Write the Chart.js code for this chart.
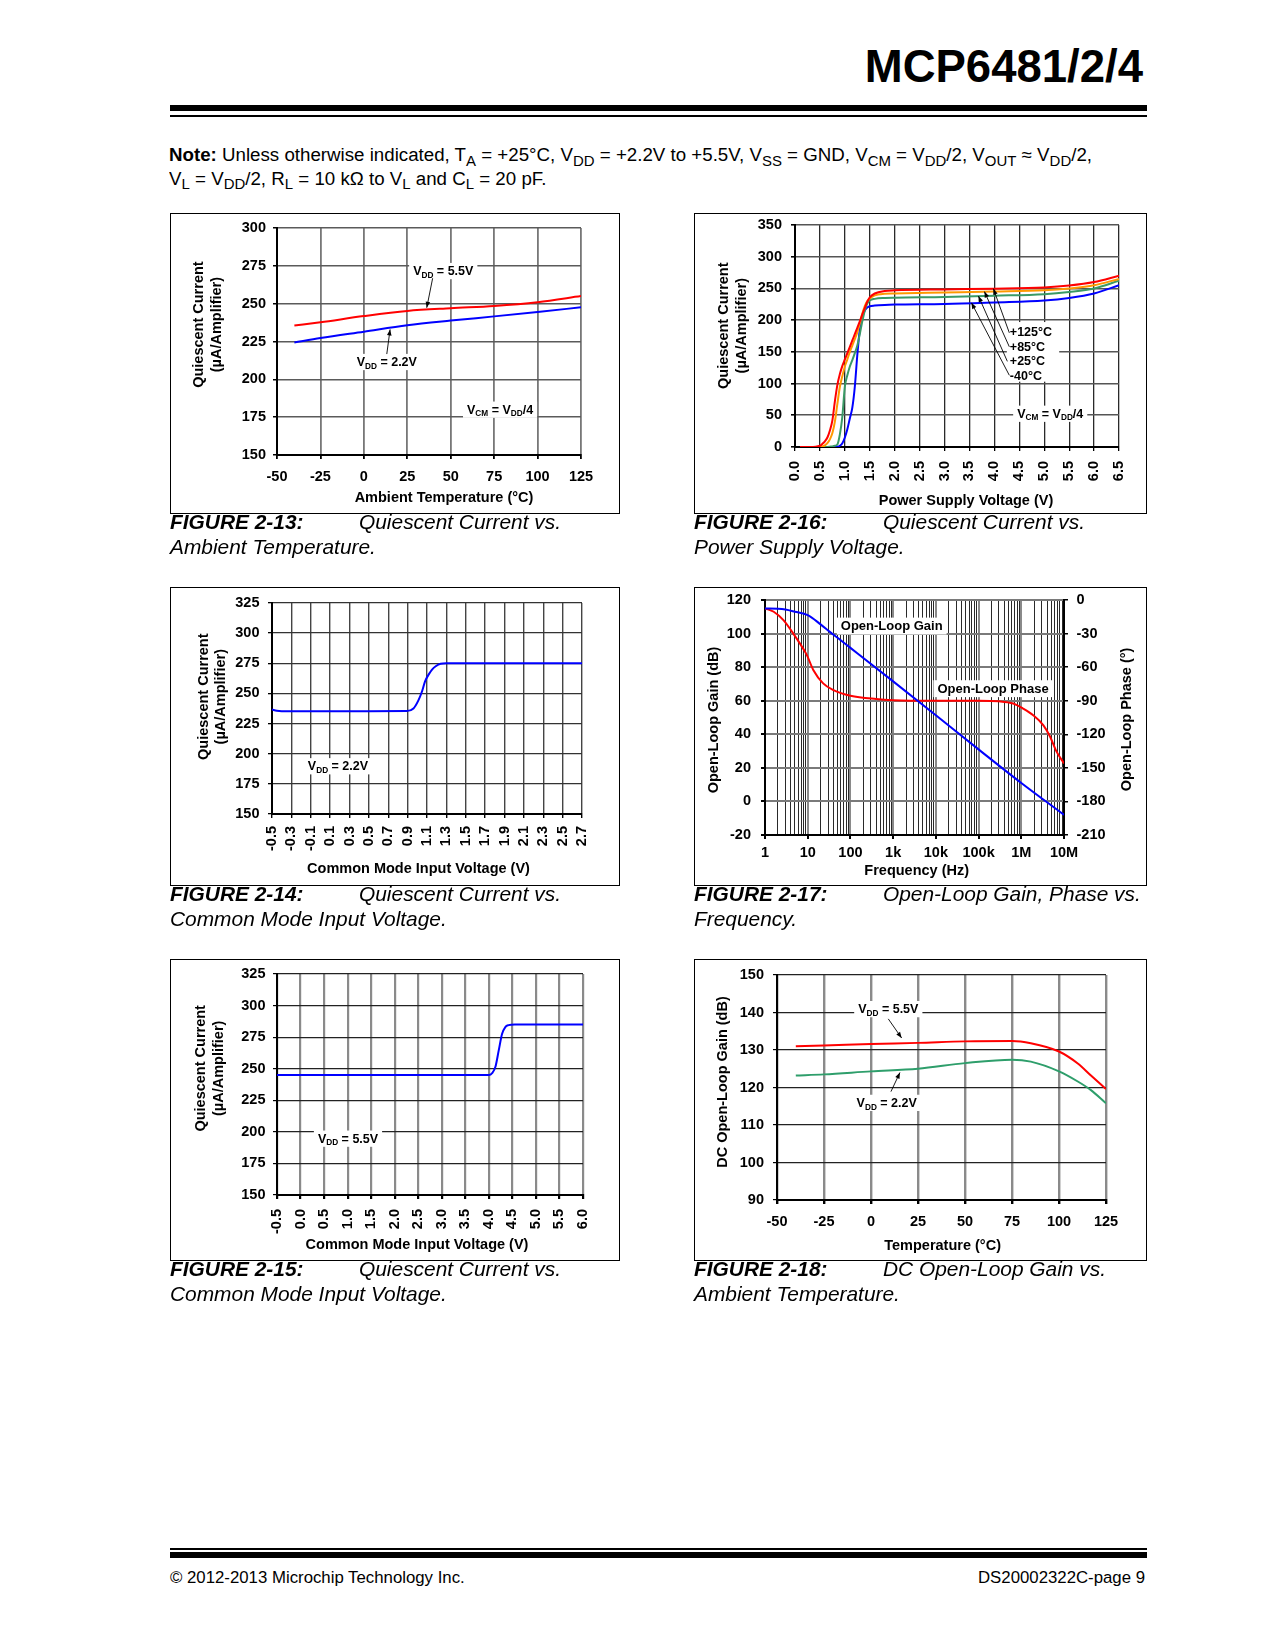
<!DOCTYPE html>
<html><head><meta charset="utf-8">
<script src="https://cdn.jsdelivr.net/npm/chart.js@4.4.1/dist/chart.umd.min.js"></script>
<style>
html,body{margin:0;padding:0;background:#fff;}
body{width:1275px;height:1650px;position:relative;overflow:hidden;font-family:"Liberation Sans",Arial,Helvetica,sans-serif;color:#000;}
.box{position:absolute;border:1.5px solid #000;box-sizing:border-box;pointer-events:none;}
.rule{position:absolute;background:#000;}
sub{font-size:80%;vertical-align:baseline;position:relative;top:0.3em;line-height:0;}
</style></head><body>
<div class="rule" style="left:170px;top:105px;width:977px;height:6px"></div>
<div class="rule" style="left:170px;top:115px;width:977px;height:2px"></div>
<div class="rule" style="left:170px;top:1548px;width:977px;height:2px"></div>
<div class="rule" style="left:170px;top:1552px;width:977px;height:6px"></div>
<script>
// ================= DATA =================
// Figure 2-13: Quiescent current vs ambient temperature
const f13TempC  = [-40, -25, 0, 25, 50, 75, 100, 125];
const f13Iq5v5  = [235.5, 237.7, 241.8, 245.2, 247.0, 248.5, 251.0, 255.0];
const f13Iq2v2  = [224.4, 227.3, 231.5, 235.7, 238.8, 241.6, 244.5, 247.6];
const f13XTicks = [-50, -25, 0, 25, 50, 75, 100, 125];
const f13YTicks = [150, 175, 200, 225, 250, 275, 300];

// Figure 2-16: Quiescent current vs power supply voltage
const f16Vdd   = [0.1, 0.3, 0.5, 0.55, 0.6, 0.65, 0.7, 0.75, 0.8, 0.85, 0.9, 0.95, 1.0, 1.05, 1.1, 1.15, 1.2, 1.25, 1.3, 1.35, 1.4, 1.45, 1.5, 1.6, 1.8, 2.0, 3.0, 4.0, 5.0, 5.5, 6.0, 6.5];
const f16Iq125 = [0, 0, 2, 5, 9, 15, 26, 42, 72, 98, 115, 128, 138, 148, 158, 168, 178, 188, 198, 209, 219, 229, 236, 242, 246, 247, 248.5, 249.5, 251.5, 254.5, 260, 270];
const f16Iq85  = [0, 0, 0, 1, 2.5, 6, 12, 22, 40, 68, 95, 112, 127, 138, 150, 160, 170, 181, 195, 210, 222, 230, 234, 239, 241.5, 242, 243.5, 245, 247, 250, 255, 265];
const f16Iq25  = [0, 0, 0, 0, 0, 0, 0.5, 1, 2, 4, 20, 48, 95, 113, 127, 137, 148, 160, 178, 198, 215, 226, 231, 233.5, 235, 235.5, 236.5, 238.5, 241, 244.5, 250, 262];
const f16IqM40 = [0, 0, 0, 0, 0, 0, 0, 0, 0, 0.5, 2, 6, 15, 28, 45, 62, 95, 145, 185, 205, 215, 220, 222, 223, 224, 224.5, 225.5, 228, 231, 235, 242, 255];
const f16XTicks = [0, 0.5, 1, 1.5, 2, 2.5, 3, 3.5, 4, 4.5, 5, 5.5, 6, 6.5];
const f16YTicks = [0, 50, 100, 150, 200, 250, 300, 350];

// Figure 2-14: Quiescent current vs common mode input voltage (VDD = 2.2V)
const f14Vcm = [-0.5, -0.45, -0.4, 0.5, 0.89, 0.96, 1.01, 1.05, 1.08, 1.12, 1.15, 1.19, 1.24, 1.3, 2.7];
const f14Iq  = [236.7, 235.6, 235.3, 235.3, 235.4, 237.5, 244, 252, 260, 266, 269.5, 272.5, 274.6, 275, 275];
const f14XTicks = [-0.5, -0.3, -0.1, 0.1, 0.3, 0.5, 0.7, 0.9, 1.1, 1.3, 1.5, 1.7, 1.9, 2.1, 2.3, 2.5, 2.7];
const f14YTicks = [150, 175, 200, 225, 250, 275, 300, 325];

// Figure 2-17: Open-loop gain, phase vs frequency
const f17FreqGain  = [1, 2, 3, 5, 10, 20, 33, 50, 100, 1e3, 1e4, 1e5, 1e6, 1e7];
const f17GainDb    = [115, 114.8, 114.3, 113, 111, 105.5, 101, 97.5, 91.5, 71.5, 51.3, 31, 11, -8];
const f17FreqPhase = [1, 1.6, 2.7, 4.6, 6.6, 9.5, 13.5, 23, 40, 100, 400, 1e3, 1e4, 1e5, 3e5, 6.5e5, 1.1e6, 1.9e6, 3.3e6, 4.7e6, 6.7e6, 1e7];
const f17PhaseDeg  = [-7.5, -10.5, -18, -30, -39, -49, -62.5, -74.5, -80.5, -85.5, -88.5, -89.5, -90, -90, -90.5, -92.5, -97, -103, -112, -122, -135.5, -146];
const f17XTickLabels = ['1', '10', '100', '1k', '10k', '100k', '1M', '10M'];
const f17GainTicks  = [-20, 0, 20, 40, 60, 80, 100, 120];
const f17PhaseTicks = [-210, -180, -150, -120, -90, -60, -30, 0];

// Figure 2-15: Quiescent current vs common mode input voltage (VDD = 5.5V)
const f15Vcm = [-0.5, 4.0, 4.07, 4.14, 4.21, 4.28, 4.35, 4.42, 4.55, 6.0];
const f15Iq  = [245, 245, 246.5, 251.5, 264.5, 277.5, 283, 284.5, 285, 285];
const f15XTicks = [-0.5, 0, 0.5, 1, 1.5, 2, 2.5, 3, 3.5, 4, 4.5, 5, 5.5, 6];
const f15YTicks = [150, 175, 200, 225, 250, 275, 300, 325];

// Figure 2-18: DC open-loop gain vs ambient temperature
const f18TempC   = [-40, -25, 0, 25, 50, 75, 85, 100, 110, 117, 125];
const f18Gain5v5 = [131, 131.2, 131.6, 131.9, 132.3, 132.4, 131.8, 129.6, 126.4, 123.2, 119.6];
const f18Gain2v2 = [123.2, 123.5, 124.3, 125, 126.5, 127.4, 126.9, 124.3, 121.6, 119.3, 115.8];
const f18XTicks = [-50, -25, 0, 25, 50, 75, 100, 125];
const f18YTicks = [90, 100, 110, 120, 130, 140, 150];

// Captions
const captions = [
  ['FIGURE 2-13:', 'Quiescent Current vs.', 'Ambient Temperature.'],
  ['FIGURE 2-16:', 'Quiescent Current vs.', 'Power Supply Voltage.'],
  ['FIGURE 2-14:', 'Quiescent Current vs.', 'Common Mode Input Voltage.'],
  ['FIGURE 2-17:', 'Open-Loop Gain, Phase vs.', 'Frequency.'],
  ['FIGURE 2-15:', 'Quiescent Current vs.', 'Common Mode Input Voltage.'],
  ['FIGURE 2-18:', 'DC Open-Loop Gain vs.', 'Ambient Temperature.']
];

// ================= HELPERS =================
const FAM = "'Liberation Sans', Arial, Helvetica, sans-serif";
Chart.defaults.font.family = FAM;
Chart.defaults.font.weight = 'bold';
Chart.defaults.font.size = 14.5;
Chart.defaults.color = '#000';

function placeText(html, x, base, size, o) {
  o = o || {};
  const d = document.createElement('div');
  d.innerHTML = html;
  let css = 'position:absolute;white-space:nowrap;line-height:0;font-size:' + size + 'px;top:' + (base - 0.3465 * size) + 'px;';
  if (o.align === 'right') css += 'right:' + (1275 - x) + 'px;'; else css += 'left:' + x + 'px;';
  if (o.bold) css += 'font-weight:bold;';
  if (o.italic) css += 'font-style:italic;';
  d.style.cssText = css;
  document.body.appendChild(d);
  return d;
}

function richParts(str) {
  const parts = []; const re = /_\{([^}]*)\}/g; let last = 0, m;
  while ((m = re.exec(str))) {
    if (m.index > last) parts.push({t: str.slice(last, m.index), sub: false});
    parts.push({t: m[1], sub: true}); last = re.lastIndex;
  }
  if (last < str.length) parts.push({t: str.slice(last), sub: false});
  return parts;
}
function richWidth(ctx, str, size) {
  let w = 0;
  richParts(str).forEach(p => { ctx.font = 'bold ' + (p.sub ? size * 0.66 : size) + 'px ' + FAM; w += ctx.measureText(p.t).width; });
  return w;
}
function drawRich(ctx, str, left, midY, size) {
  const base = midY + size * 0.36;
  let x = left;
  ctx.textAlign = 'left'; ctx.textBaseline = 'alphabetic';
  richParts(str).forEach(p => {
    ctx.font = 'bold ' + (p.sub ? size * 0.66 : size) + 'px ' + FAM;
    ctx.fillText(p.t, x, p.sub ? base + size * 0.2 : base);
    x += ctx.measureText(p.t).width;
  });
}
function arrow(ctx, x1, y1, x2, y2) {
  ctx.strokeStyle = '#000'; ctx.fillStyle = '#000'; ctx.lineWidth = 0.9;
  ctx.beginPath(); ctx.moveTo(x1, y1); ctx.lineTo(x2, y2); ctx.stroke();
  const a = Math.atan2(y2 - y1, x2 - x1), L = 6, W = 2.3;
  ctx.beginPath(); ctx.moveTo(x2, y2);
  ctx.lineTo(x2 - L * Math.cos(a) + W * Math.sin(a), y2 - L * Math.sin(a) - W * Math.cos(a));
  ctx.lineTo(x2 - L * Math.cos(a) - W * Math.sin(a), y2 - L * Math.sin(a) + W * Math.cos(a));
  ctx.closePath(); ctx.fill();
}

function mkDeco(d) {
  d = d || {};
  return {
    id: 'deco',
    beforeDatasetsDraw(chart) {
      const ctx = chart.ctx; ctx.save();
      (d.rects || []).forEach(r => {
        const xs = chart.scales.x, ys = chart.scales[r.yAxis || 'y'];
        const x1 = xs.getPixelForValue(r.x1), x2 = xs.getPixelForValue(r.x2);
        const y1 = ys.getPixelForValue(r.y1), y2 = ys.getPixelForValue(r.y2);
        ctx.fillStyle = '#fff';
        ctx.fillRect(Math.min(x1, x2), Math.min(y1, y2), Math.abs(x2 - x1), Math.abs(y2 - y1));
      });
      (d.notes || []).forEach(n => {
        const xs = chart.scales.x, ys = chart.scales[n.yAxis || 'y'];
        const px = xs.getPixelForValue(n.x), py = ys.getPixelForValue(n.y);
        const size = n.size || 12.5;
        const w = richWidth(ctx, n.text, size);
        const left = n.align === 'left' ? px : px - w / 2;
        if (n.bg !== false) { ctx.fillStyle = '#fff'; ctx.fillRect(left - 4, py - size * 0.62, w + 8, size * 1.3); }
        ctx.fillStyle = '#000';
        drawRich(ctx, n.text, left, py, size);
      });
      ctx.restore();
    },
    afterDatasetsDraw(chart) {
      const ctx = chart.ctx; ctx.save();
      (d.arrows || []).forEach(a => {
        const xs = chart.scales.x, ys = chart.scales[a.yAxis || 'y'];
        arrow(ctx, xs.getPixelForValue(a.x1), ys.getPixelForValue(a.y1), xs.getPixelForValue(a.x2), ys.getPixelForValue(a.y2));
      });
      ctx.restore();
    },
    afterDraw(chart) {
      const ctx = chart.ctx; ctx.save();
      ctx.fillStyle = '#000'; ctx.textAlign = 'center'; ctx.textBaseline = 'middle';
      (d.titles || []).forEach(t => {
        ctx.font = 'bold ' + (t.size || 14.5) + 'px ' + FAM;
        ctx.save(); ctx.translate(t.x, t.y); if (t.rot) ctx.rotate(t.rot * Math.PI / 180);
        ctx.fillText(t.text, 0, 0); ctx.restore();
      });
      ctx.restore();
    }
  };
}

function axis(o) {
  return {
    type: o.type || 'linear', position: o.position, min: o.min, max: o.max,
    afterBuildTicks: s => { s.ticks = o.ticks.map(v => ({value: v})); },
    afterFit: s => {
      o.fit(s);
      s.paddingTop = 0; s.paddingBottom = 0; s.paddingLeft = 0; s.paddingRight = 0;
    },
    ticks: {
      autoSkip: false, maxRotation: o.rot || 0, minRotation: o.rot || 0, padding: o.pad,
      color: '#000', font: {family: FAM, size: 14.5, weight: 'bold'},
      callback: o.fmt || (v => String(v))
    },
    grid: Object.assign({color: '#6b6b6b', lineWidth: 1.5, tickLength: 4, drawTicks: true, tickColor: '#000'}, o.grid || {}),
    border: {display: true, color: '#000', width: 2}
  };
}

function pts(xs, ys) { return xs.map((x, i) => ({x: x, y: ys[i]})); }
function ds(xs, ys, color, extra) {
  return Object.assign({data: pts(xs, ys), borderColor: color, borderWidth: 2, pointRadius: 0, fill: false,
    cubicInterpolationMode: 'monotone'}, extra || {});
}

function makeChart(spec, idx) {
  const box = spec.box, plot = spec.plot;
  const cv = document.createElement('canvas');
  cv.width = box.w; cv.height = box.h;
  cv.style.cssText = 'position:absolute;left:' + box.x + 'px;top:' + box.y + 'px;width:' + box.w + 'px;height:' + box.h + 'px;';
  document.body.appendChild(cv);
  const bd = document.createElement('div');
  bd.className = 'box';
  bd.style.left = box.x + 'px'; bd.style.top = box.y + 'px'; bd.style.width = box.w + 'px'; bd.style.height = box.h + 'px';
  document.body.appendChild(bd);

  const scales = {};
  scales.x = axis(Object.assign({}, spec.x, {fit: s => { s.height = box.y + box.h - plot.b; }}));
  scales.y = axis(Object.assign({position: 'left'}, spec.y, {fit: s => { s.width = plot.l - box.x; }}));
  if (spec.y2) scales.y2 = axis(Object.assign({position: 'right'}, spec.y2, {fit: s => { s.width = box.x + box.w - plot.r; }}));

  new Chart(cv, {
    type: 'line',
    data: {datasets: spec.datasets},
    options: {
      responsive: false, animation: false, events: [],
      layout: {padding: {top: plot.t - box.y, right: spec.y2 ? 0 : (box.x + box.w - plot.r), left: 0, bottom: 0}},
      plugins: {legend: {display: false}, tooltip: {enabled: false}},
      scales: scales
    },
    plugins: [mkDeco(spec.deco)]
  });

  // captions
  const c = captions[idx];
  const b1 = box.y + box.h + 15.5;
  placeText('<b>' + c[0] + '</b>', box.x, b1, 20.9, {italic: true});
  placeText(c[1], box.x + 189, b1, 20.9, {italic: true});
  placeText(c[2], box.x, b1 + 25, 20.9, {italic: true});
}

const fmt1 = v => Number(v).toFixed(1);
const isDecade = v => Math.abs(Math.log10(v) - Math.round(Math.log10(v))) < 1e-9;
const f17MinorTicks = [];
for (let e = 0; e < 7; e++) for (let m = 1; m <= 9; m++) f17MinorTicks.push(m * Math.pow(10, e));
f17MinorTicks.push(1e7);

function yTitle2(x1, x2, cy) {
  return [{text: 'Quiescent Current', x: x1, y: cy, rot: -90}, {text: '(\u00B5A/Amplifier)', x: x2, y: cy, rot: -90}];
}

// ================= PAGE TEXT =================
placeText('MCP6481/2/4', 1143, 83, 45.5, {bold: true, align: 'right'});
const n1 = placeText('<b>Note:</b> Unless otherwise indicated, T<sub>A</sub> = +25\u00B0C, V<sub>DD</sub> = +2.2V to +5.5V, V<sub>SS</sub> = GND, V<sub>CM</sub> = V<sub>DD</sub>/2, V<sub>OUT</sub> \u2248 V<sub>DD</sub>/2,', 169, 161.5, 18);
const n2 = placeText('V<sub>L</sub> = V<sub>DD</sub>/2, R<sub>L</sub> = 10 k\u03A9 to V<sub>L</sub> and C<sub>L</sub> = 20 pF.', 169, 185, 18);
const sc = 923 / n1.getBoundingClientRect().width;
[n1, n2].forEach(n => { n.style.transformOrigin = '0 0'; n.style.transform = 'scaleX(' + sc + ')'; });
placeText('\u00A9 2012-2013 Microchip Technology Inc.', 170, 1584, 16.8);
placeText('DS20002322C-page 9', 1145, 1584, 16.8, {align: 'right'});

// ================= CHARTS =================
// Figure 2-13
makeChart({
  box: {x: 170, y: 213, w: 450, h: 301}, plot: {l: 277, t: 228, r: 581, b: 455},
  x: {min: -50, max: 125, ticks: f13XTicks, pad: 9, grid: {color: '#777', lineWidth: 1.8}},
  y: {min: 150, max: 300, ticks: f13YTicks, pad: 7, grid: {color: '#5a5a5a', lineWidth: 1.5}},
  datasets: [ds(f13TempC, f13Iq5v5, '#ff0000'), ds(f13TempC, f13Iq2v2, '#0000ff')],
  deco: {
    notes: [{x: 45.7, y: 271.8, text: 'V_{DD} = 5.5V'}, {x: 13.2, y: 211.7, text: 'V_{DD} = 2.2V'}, {x: 78.4, y: 180.2, text: 'V_{CM} = V_{DD}/4'}],
    arrows: [{x1: 39.6, y1: 266.8, x2: 36.2, y2: 247.3}, {x1: 13.2, y1: 216.7, x2: 15.1, y2: 233}],
    titles: yTitle2(28.5, 46.5, 111.6).concat([{text: 'Ambient Temperature (\u00B0C)', x: 274, y: 285}])
  }
}, 0);

// Figure 2-16
makeChart({
  box: {x: 694, y: 213, w: 453, h: 301}, plot: {l: 795, t: 225, r: 1119, b: 447},
  x: {min: 0, max: 6.5, ticks: f16XTicks, pad: 10, rot: 90, fmt: fmt1, grid: {color: '#2a2a2a', lineWidth: 1.3}},
  y: {min: 0, max: 350, ticks: f16YTicks, pad: 9, grid: {color: '#555', lineWidth: 1.6}},
  datasets: [ds(f16Vdd, f16Iq125, '#ff0000'), ds(f16Vdd, f16Iq85, '#ff9900'), ds(f16Vdd, f16Iq25, '#3a9a66'), ds(f16Vdd, f16IqM40, '#0000ff')],
  deco: {
    rects: [{x1: 4.25, x2: 5.3, y1: 197, y2: 103}],
    notes: [
      {x: 4.31, y: 181.8, text: '+125\u00B0C', align: 'left', bg: false},
      {x: 4.31, y: 159.2, text: '+85\u00B0C', align: 'left', bg: false},
      {x: 4.31, y: 136, text: '+25\u00B0C', align: 'left', bg: false},
      {x: 4.31, y: 113.5, text: '-40\u00B0C', align: 'left', bg: false},
      {x: 5.12, y: 53, text: 'V_{CM} = V_{DD}/4'}
    ],
    arrows: [
      {x1: 4.3, y1: 180, x2: 3.98, y2: 249.6}, {x1: 4.3, y1: 158, x2: 3.8, y2: 245},
      {x1: 4.26, y1: 135, x2: 3.68, y2: 238}, {x1: 4.3, y1: 113, x2: 3.54, y2: 227.3}
    ],
    titles: yTitle2(30, 48, 112.7).concat([{text: 'Power Supply Voltage (V)', x: 272, y: 288}])
  }
}, 1);

// Figure 2-14
makeChart({
  box: {x: 170, y: 587, w: 450, h: 299}, plot: {l: 272, t: 603, r: 582, b: 814},
  x: {min: -0.5, max: 2.7, ticks: f14XTicks, pad: 8, rot: 90, fmt: fmt1, grid: {color: '#444', lineWidth: 1.4}},
  y: {min: 150, max: 325, ticks: f14YTicks, pad: 8.5, grid: {color: '#333', lineWidth: 1.3}},
  datasets: [ds(f14Vcm, f14Iq, '#0000ff')],
  deco: {
    notes: [{x: 0.181, y: 189.9, text: 'V_{DD} = 2.2V'}],
    titles: yTitle2(33.7, 50.6, 109.7).concat([{text: 'Common Mode Input Voltage (V)', x: 248.5, y: 282}])
  }
}, 2);

// Figure 2-17
makeChart({
  box: {x: 694, y: 587, w: 453, h: 299}, plot: {l: 765, t: 600, r: 1064, b: 835},
  x: {type: 'logarithmic', min: 1, max: 1e7, ticks: f17MinorTicks, pad: 5.5,
      fmt: v => isDecade(v) ? f17XTickLabels[Math.round(Math.log10(v))] : '',
      grid: {color: c => (c.tick && isDecade(c.tick.value)) ? '#8a8a8a' : '#2a2a2a',
             lineWidth: c => (c.tick && isDecade(c.tick.value)) ? 2 : 1,
             tickColor: c => (c.tick && isDecade(c.tick.value)) ? '#000' : 'rgba(0,0,0,0)'}},
  y: {min: -20, max: 120, ticks: f17GainTicks, pad: 10, grid: {color: '#7a7a7a', lineWidth: 2}},
  y2: {min: -210, max: 0, ticks: f17PhaseTicks, pad: 8.5, grid: {drawOnChartArea: false}},
  datasets: [ds(f17FreqGain, f17GainDb, '#0000ff'), ds(f17FreqPhase, f17PhaseDeg, '#ff0000', {yAxisID: 'y2'})],
  deco: {
    notes: [{x: 926, y: 104.7, text: 'Open-Loop Gain', size: 13}, {x: 218000, y: 67.4, text: 'Open-Loop Phase', size: 13}],
    titles: [
      {text: 'Open-Loop Gain (dB)', x: 19.6, y: 133, rot: -90},
      {text: 'Open-Loop Phase (\u00B0)', x: 433, y: 132.4, rot: -90},
      {text: 'Frequency (Hz)', x: 222.7, y: 284}
    ]
  }
}, 3);

// Figure 2-15
makeChart({
  box: {x: 170, y: 959, w: 450, h: 302}, plot: {l: 277, t: 974, r: 583, b: 1195},
  x: {min: -0.5, max: 6.0, ticks: f15XTicks, pad: 10, rot: 90, fmt: fmt1, grid: {color: '#8a8a8a', lineWidth: 2.2}},
  y: {min: 150, max: 325, ticks: f15YTicks, pad: 7.5, grid: {color: '#222', lineWidth: 1.2}},
  datasets: [ds(f15Vcm, f15Iq, '#0000ff')],
  deco: {
    notes: [{x: 1.008, y: 194.9, text: 'V_{DD} = 5.5V'}],
    titles: yTitle2(30.6, 48.5, 109.3).concat([{text: 'Common Mode Input Voltage (V)', x: 247, y: 286}])
  }
}, 4);

// Figure 2-18
makeChart({
  box: {x: 694, y: 959, w: 453, h: 302}, plot: {l: 777, t: 975, r: 1106, b: 1200},
  x: {min: -50, max: 125, ticks: f18XTicks, pad: 9, grid: {color: '#8a8a8a', lineWidth: 2.4}},
  y: {min: 90, max: 150, ticks: f18YTicks, pad: 9, grid: {color: '#222', lineWidth: 1.2}},
  datasets: [ds(f18TempC, f18Gain5v5, '#ff0000'), ds(f18TempC, f18Gain2v2, '#2e9e6b')],
  deco: {
    notes: [{x: 9.2, y: 141, text: 'V_{DD} = 5.5V'}, {x: 8.35, y: 116, text: 'V_{DD} = 2.2V'}],
    arrows: [{x1: 9.2, y1: 138.3, x2: 16.3, y2: 133.2}, {x1: 10.6, y1: 118.9, x2: 15.4, y2: 124.0}],
    titles: [
      {text: 'DC Open-Loop Gain (dB)', x: 29.3, y: 123, rot: -90},
      {text: 'Temperature (\u00B0C)', x: 248.6, y: 287}
    ]
  }
}, 5);
</script>
</body></html>
